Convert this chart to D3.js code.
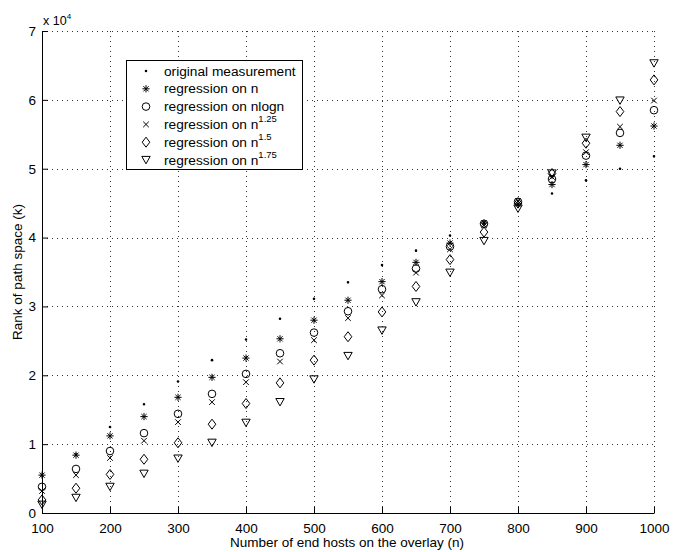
<!DOCTYPE html>
<html>
<head>
<meta charset="utf-8">
<script src="https://cdn.jsdelivr.net/npm/d3@7"></script>
<style>
body { margin: 0; background: #fff; }
text { font-family: "Liberation Sans", Arial, Helvetica, sans-serif; fill: #000; }
</style>
</head>
<body>
<div id="chart"></div>
<script>
// number of end hosts on the overlay
var hosts = [100, 150, 200, 250, 300, 350, 400, 450, 500, 550, 600, 650, 700, 750, 800, 850, 900, 950, 1000];

// rank of path space, one array per series
var measured = [5500, 8500, 12500, 15800, 19100, 22200, 25200, 28200, 31100, 33500, 36000, 38100, 40300, 42200, 44800, 46400, 48300, 50000, 51800];
var regN = [5500, 8400, 11200, 14000, 16800, 19700, 22500, 25300, 28000, 30900, 33600, 36400, 39200, 42100, 44900, 47700, 50600, 53400, 56200];
var regNlogN = [3800, 6400, 9000, 11600, 14400, 17300, 20200, 23200, 26200, 29300, 32500, 35500, 38700, 42000, 45200, 48500, 51900, 55200, 58500];
var regN125 = [3200, 5500, 8000, 10500, 13200, 16100, 19000, 22000, 25100, 28300, 31600, 34900, 38300, 41800, 45300, 48800, 52400, 56100, 59900];
var regN15 = [1900, 3600, 5600, 7800, 10200, 12900, 15900, 18900, 22200, 25600, 29200, 32900, 36800, 40800, 45000, 49300, 53700, 58300, 62900];
var regN175 = [1200, 2200, 3800, 5700, 7900, 10200, 13100, 16100, 19400, 22800, 26500, 30600, 34900, 39500, 44200, 49300, 54500, 59900, 65300];

var xTicks = [100, 200, 300, 400, 500, 600, 700, 800, 900, 1000];
var yTicks = [0, 10000, 20000, 30000, 40000, 50000, 60000, 70000];

var w = 684, h = 552;
var margin = { top: 31, right: 30, bottom: 39, left: 42 };
var pw = w - margin.left - margin.right;
var ph = h - margin.top - margin.bottom;

var xScale = d3.scaleLinear().domain([100, 1000]).range([0, pw]);
var yScale = d3.scaleLinear().domain([0, 70000]).range([ph, 0]);

// marker shapes, MATLAB style
function markerPath(type, x, y) {
    var p = d3.path();
    if (type === "dot") {
        p.arc(x, y, 1.3, 0, 2 * Math.PI);
    } else if (type === "circle") {
        p.moveTo(x + 3.8, y);
        p.arc(x, y, 3.8, 0, 2 * Math.PI);
    } else if (type === "star") {
        var s = 3.6, d = 2.6;
        p.moveTo(x - s, y); p.lineTo(x + s, y);
        p.moveTo(x, y - s); p.lineTo(x, y + s);
        p.moveTo(x - d, y - d); p.lineTo(x + d, y + d);
        p.moveTo(x - d, y + d); p.lineTo(x + d, y - d);
    } else if (type === "cross") {
        var c = 2.8;
        p.moveTo(x - c, y - c); p.lineTo(x + c, y + c);
        p.moveTo(x - c, y + c); p.lineTo(x + c, y - c);
    } else if (type === "diamond") {
        p.moveTo(x, y - 5); p.lineTo(x + 3.8, y);
        p.lineTo(x, y + 5); p.lineTo(x - 3.8, y);
        p.closePath();
    } else if (type === "triangle") {
        p.moveTo(x - 4.2, y - 3.6); p.lineTo(x + 4.2, y - 3.6);
        p.lineTo(x, y + 3.8);
        p.closePath();
    }
    return p.toString();
}

var series = [
    { name: "original measurement", sup: null, type: "dot", values: measured },
    { name: "regression on n", sup: null, type: "star", values: regN },
    { name: "regression on nlogn", sup: null, type: "circle", values: regNlogN },
    { name: "regression on n", sup: "1.25", type: "cross", values: regN125 },
    { name: "regression on n", sup: "1.5", type: "diamond", values: regN15 },
    { name: "regression on n", sup: "1.75", type: "triangle", values: regN175 }
];

var svg = d3.select("#chart")
    .append("svg")
    .attr("width", w)
    .attr("height", h);

var g = svg.append("g")
    .attr("transform", "translate(" + margin.left + "," + margin.top + ")");

// dotted grid
g.selectAll(".vgrid")
    .data(xTicks.slice(1))
    .enter()
    .append("line")
    .attr("x1", function(d) { return Math.round(xScale(d)) + 0.5; })
    .attr("x2", function(d) { return Math.round(xScale(d)) + 0.5; })
    .attr("y1", 0)
    .attr("y2", ph)
    .attr("stroke", "#333")
    .attr("stroke-dasharray", "1,4");

g.selectAll(".hgrid")
    .data(yTicks.slice(1))
    .enter()
    .append("line")
    .attr("x1", 0)
    .attr("x2", pw)
    .attr("y1", function(d) { return Math.round(yScale(d)) + 0.5; })
    .attr("y2", function(d) { return Math.round(yScale(d)) + 0.5; })
    .attr("stroke", "#333")
    .attr("stroke-dasharray", "1,4");

// axes (no box)
var xAxis = d3.axisBottom(xScale).tickValues(xTicks).tickSizeInner(-6).tickSizeOuter(0).tickPadding(10)
    .tickFormat(d3.format("d"));
var yAxis = d3.axisLeft(yScale).tickValues(yTicks).tickSizeInner(-6).tickSizeOuter(0).tickPadding(6)
    .tickFormat(function(d) { return d / 10000; });

var gx = g.append("g")
    .attr("transform", "translate(0," + ph + ")")
    .call(xAxis);
var gy = g.append("g").call(yAxis);

[gx, gy].forEach(function(ax) {
    ax.select(".domain").attr("stroke", "#000");
    ax.selectAll(".tick line").attr("stroke", "#000");
    ax.selectAll(".tick text")
        .style("font-family", "'Liberation Sans', Arial, sans-serif")
        .style("font-size", "13.5px")
        .attr("fill", "#000");
});

// markers
series.forEach(function(s) {
    g.selectAll(".m-" + s.type)
        .data(s.values)
        .enter()
        .append("path")
        .attr("d", function(d, i) { return markerPath(s.type, xScale(hosts[i]), yScale(d)); })
        .attr("fill", s.type === "dot" ? "#000" : "none")
        .attr("stroke", s.type === "dot" ? "none" : "#000")
        .attr("stroke-width", 1);
});

// exponent label
var expo = svg.append("text")
    .attr("x", 43)
    .attr("y", 25)
    .style("font-size", "12.5px");
expo.append("tspan").text("x 10");
expo.append("tspan").attr("dy", -6).style("font-size", "8px").text("4");

// axis labels
svg.append("text")
    .attr("x", margin.left + pw / 2 - 1)
    .attr("y", 547)
    .attr("text-anchor", "middle")
    .style("font-size", "13.5px")
    .text("Number of end hosts on the overlay (n)");

svg.append("text")
    .attr("transform", "translate(22," + (margin.top + ph / 2) + ") rotate(-90)")
    .attr("text-anchor", "middle")
    .style("font-size", "13.5px")
    .text("Rank of path space (k)");

// legend
var legend = svg.append("g").attr("transform", "translate(126,60)");
legend.append("rect")
    .attr("x", 0.5)
    .attr("y", 0.5)
    .attr("width", 176)
    .attr("height", 109)
    .attr("fill", "#fff")
    .attr("stroke", "#000");

var rows = legend.selectAll(".row")
    .data(series)
    .enter()
    .append("g")
    .attr("transform", function(d, i) { return "translate(0," + (11 + i * 17.8) + ")"; });

rows.append("path")
    .attr("d", function(d) { return markerPath(d.type, 20, 0); })
    .attr("fill", function(d) { return d.type === "dot" ? "#000" : "none"; })
    .attr("stroke", function(d) { return d.type === "dot" ? "none" : "#000"; });

var lt = rows.append("text")
    .attr("x", 38)
    .attr("y", 4.5)
    .style("font-size", "13.7px");
lt.append("tspan").text(function(d) { return d.name; });
lt.filter(function(d) { return d.sup; })
    .append("tspan")
    .attr("dy", -7)
    .style("font-size", "9.5px")
    .text(function(d) { return d.sup; });
</script>
</body>
</html>
